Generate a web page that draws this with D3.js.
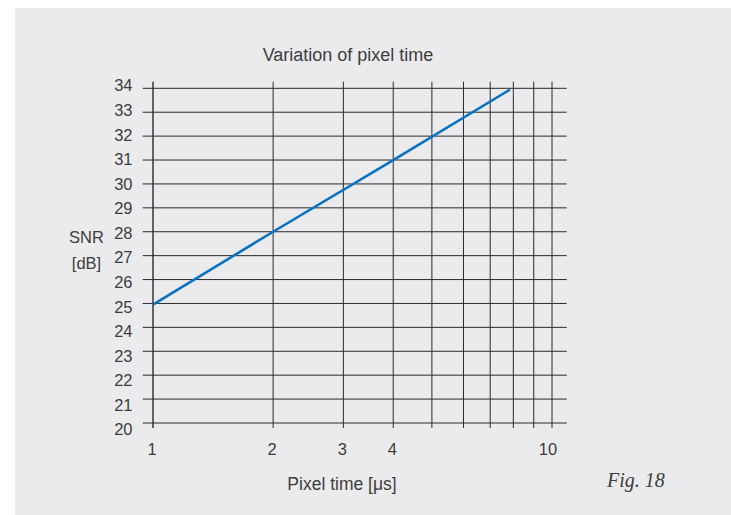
<!DOCTYPE html>
<html><head><meta charset="utf-8">
<script src="https://cdn.jsdelivr.net/npm/d3@7"></script>
<style>
html,body{margin:0;padding:0;background:#fff;}
svg{display:block;}
text{font-family:"Liberation Sans",Arial,sans-serif;fill:#3d3d3d;}
</style></head>
<body>
<script>
// ---- data ----
const title = "Variation of pixel time";
const xLabel = "Pixel time [μs]";
const yLabelLines = ["SNR", "[dB]"];
const figLabel = "Fig. 18";
const pixelTime = [1, 2, 4, 7.85];
const snr = [24.95, 28.0, 31.0, 33.95];
const xGrid = [1, 2, 3, 4, 5, 6, 7, 8, 9, 10];
const xTickLabels = [1, 2, 3, 4, 10];
const yTicks = [20, 21, 22, 23, 24, 25, 26, 27, 28, 29, 30, 31, 32, 33, 34];

// ---- layout ----
const W = 731, H = 515;
const svg = d3.select("body").append("svg").attr("width", W).attr("height", H);
svg.append("rect").attr("x", 15).attr("y", 8).attr("width", W - 15).attr("height", H - 8).attr("fill", "#ebebed");

const x = d3.scaleLog().domain([1, 10]).range([153, 552]);
const y = d3.scaleLinear().domain([20, 34]).range([423, 88.3]);
const yLab = d3.scaleLinear().domain([20, 34]).range([429.5, 85.5]);

const gridLeft = 142.7, gridRight = 566.7, gridTop = 81.7, gridBottom = 428;

const g = svg.append("g");
// horizontal grid
g.selectAll("line.h").data(yTicks).join("line")
  .attr("x1", gridLeft).attr("x2", gridRight)
  .attr("y1", d => y(d)).attr("y2", d => y(d))
  .attr("stroke", "#2a2a2a").attr("stroke-width", 1);
// vertical grid
g.selectAll("line.v").data(xGrid).join("line")
  .attr("x1", d => x(d)).attr("x2", d => x(d))
  .attr("y1", gridTop).attr("y2", gridBottom)
  .attr("stroke", "#2a2a2a").attr("stroke-width", d => d === 1 ? 1.4 : 1);

// y tick labels
svg.selectAll("text.yt").data(yTicks).join("text")
  .attr("x", 132.5).attr("y", d => yLab(d))
  .attr("dy", "0.36em").attr("text-anchor", "end")
  .attr("font-size", 16.5).text(d => d);
// x tick labels
svg.selectAll("text.xt").data(xTickLabels).join("text")
  .attr("x", d => x(d) - (d === 10 ? 4 : 1)).attr("y", 455)
  .attr("text-anchor", "middle")
  .attr("font-size", 16.5).text(d => d);

// line
const pts = pixelTime.map((t, i) => [t, snr[i]]);
svg.append("path").datum(pts)
  .attr("d", d3.line().x(d => x(d[0])).y(d => y(d[1])))
  .attr("fill", "none").attr("stroke", "#0a72c2").attr("stroke-width", 2.6);

// titles
svg.append("text").attr("x", 348).attr("y", 61).attr("text-anchor", "middle")
  .attr("font-size", 18).text(title);
svg.append("text").attr("x", 342).attr("y", 490).attr("text-anchor", "middle")
  .attr("font-size", 17.5).text(xLabel);
svg.selectAll("text.yl").data(yLabelLines).join("text")
  .attr("x", 86.5).attr("y", (d, i) => 243 + i * 26).attr("text-anchor", "middle")
  .attr("font-size", 16.5).text(d => d);
svg.append("text").attr("x", 607).attr("y", 487)
  .style("font-family", "'Liberation Serif','Times New Roman',serif").style("font-style", "italic")
  .attr("font-size", 20).text(figLabel);
</script>
</body></html>
